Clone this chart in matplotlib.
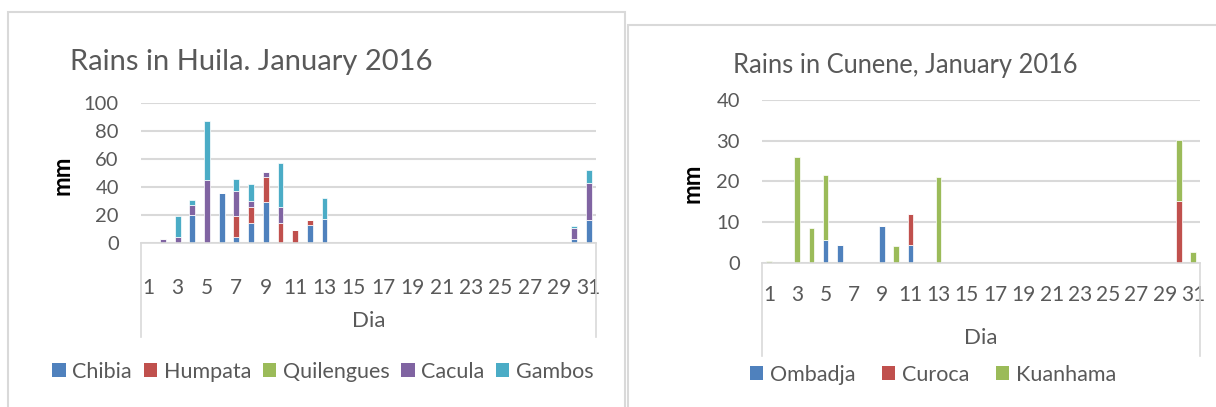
import matplotlib
matplotlib.use('Agg')
import matplotlib.pyplot as plt
from matplotlib.patches import Patch, Rectangle
from matplotlib.lines import Line2D
import numpy as np

plt.rcParams['font.family'] = ['Lato', 'DejaVu Sans']

# ---------------- data ----------------
days = list(range(1, 32))
tick_days = list(range(1, 32, 2))

huila_names = ['Chibia', 'Humpata', 'Quilengues', 'Cacula', 'Gambos']
chibia =     [0, 0, 0, 20, 0, 36, 4, 14.5, 29.5, 0, 0, 13, 17.4] + [0]*16 + [3, 16.7]
humpata =    [0, 0, 0, 0, 0, 0, 15, 11.5, 17.4, 14.5, 9.3, 3.6, 0] + [0]*16 + [0, 0]
quilengues = [0]*31
cacula =     [0, 3, 4, 7.4, 45, 0, 18, 4.3, 3.6, 11.5, 0, 0, 0] + [0]*16 + [8, 26.2]
gambos =     [0, 0, 15.5, 3.3, 42, 0, 9, 12, 0, 31, 0, 0, 14.7] + [0]*16 + [1.4, 9.2]

cunene_names = ['Ombadja', 'Curoca', 'Kuanhama']
ombadja =  [0, 0, 0, 0, 5.5, 4.4, 0, 0, 9.0, 0, 4.35, 0, 0] + [0]*16 + [0, 0]
curoca =   [0, 0, 0, 0, 0, 0, 0, 0, 0, 0, 7.55, 0, 0] + [0]*16 + [15.3, 0]
kuanhama = [0.3, 0, 26, 8.6, 16.1, 0, 0, 0, 0, 4.0, 0, 0, 21.0] + [0]*16 + [14.8, 2.7]

colors5 = ['#4F81BD', '#C0504D', '#9BBB59', '#8064A2', '#4BACC6']
colors3 = ['#4F81BD', '#C0504D', '#9BBB59']

TXT = '#595959'
GRID = '#D9D9D9'

W, H = 1216, 407
fig = plt.figure(figsize=(W/100, H/100), dpi=100)

def fx(x):
    return x / W

def fy(y):
    return 1 - y / H

# panel borders
fig.patches.append(Rectangle((fx(8), fy(430)), fx(625) - fx(8), fy(12) - fy(430),
                             transform=fig.transFigure, fill=False, edgecolor=GRID, lw=1.5))
fig.patches.append(Rectangle((fx(628), fy(430)), fx(1240) - fx(628), fy(25) - fy(430),
                             transform=fig.transFigure, fill=False, edgecolor=GRID, lw=1.5))


def setup(ax, ymax, ystep, box_bottom, tick_pad):
    ax.set_xlim(0.5, 31.5)
    ax.set_ylim(0, ymax)
    ax.set_yticks(np.arange(0, ymax + 0.1, ystep))
    ax.set_xticks(tick_days)
    ax.set_xticklabels([str(d) for d in tick_days])
    ax.tick_params(axis='x', length=0, pad=tick_pad, labelsize=15, labelcolor=TXT)
    ax.tick_params(axis='y', length=0, pad=16, labelsize=14.5, labelcolor=TXT)
    for s in ['top', 'right', 'left']:
        ax.spines[s].set_visible(False)
    ax.spines['bottom'].set_color(GRID)
    ax.spines['bottom'].set_linewidth(1.2)
    ax.yaxis.grid(True, color=GRID, lw=1.5)
    ax.set_axisbelow(True)
    for xa in (0, 1):
        ax.add_line(Line2D([xa, xa], [0, box_bottom], transform=ax.transAxes,
                           color=GRID, lw=1.2, clip_on=False))


# ---------------- Huila ----------------
ax1 = fig.add_axes([fx(141), fy(243), fx(596) - fx(141), fy(103) - fy(243)])
bottom = np.zeros(31)
handles1 = []
for name, vals, c in zip(huila_names, [chibia, humpata, quilengues, cacula, gambos], colors5):
    v = np.array(vals, dtype=float)
    ax1.bar(days, v, width=0.4, bottom=bottom, color=c, edgecolor='white', linewidth=0.5)
    bottom += v
    handles1.append(Patch(facecolor=c, edgecolor='none', label=name))
setup(ax1, 100, 20, -0.67, 25)

fig.text(fx(70), fy(62), 'Rains in Huila. January 2016', fontsize=21, color=TXT, va='center', ha='left')
fig.text(fx(62), fy(175), 'mm', fontsize=17, fontweight='bold', rotation=90, va='center', ha='center', color='black')
fig.text(fx(368.5), fy(321), 'Dia', fontsize=16, color=TXT, va='center', ha='center')

fig.legend(handles=handles1, loc='center', bbox_to_anchor=(fx(323), fy(372)), ncol=5,
           frameon=False, fontsize=15.5, handlelength=0.62, handleheight=0.62,
           handletextpad=0.3, columnspacing=0.55, labelcolor=TXT, borderpad=0, borderaxespad=0)

# ---------------- Cunene ----------------
ax2 = fig.add_axes([fx(762), fy(262.7), fx(1200) - fx(762), fy(100.3) - fy(262.7)])
bottom = np.zeros(31)
handles2 = []
for name, vals, c in zip(cunene_names, [ombadja, curoca, kuanhama], colors3):
    v = np.array(vals, dtype=float)
    ax2.bar(days, v, width=0.4, bottom=bottom, color=c, edgecolor='white', linewidth=0.5)
    bottom += v
    handles2.append(Patch(facecolor=c, edgecolor='none', label=name))
setup(ax2, 40, 10, -0.575, 16)

fig.text(fx(733), fy(65), 'Rains in Cunene, January 2016', fontsize=18.4, color=TXT, va='center', ha='left')
fig.text(fx(692), fy(183), 'mm', fontsize=17, fontweight='bold', rotation=90, va='center', ha='center', color='black')
fig.text(fx(981), fy(338), 'Dia', fontsize=16, color=TXT, va='center', ha='center')

fig.legend(handles=handles2, loc='center', bbox_to_anchor=(fx(933), fy(375)), ncol=3,
           frameon=False, fontsize=15.5, handlelength=0.62, handleheight=0.62,
           handletextpad=0.3, columnspacing=1.25, labelcolor=TXT, borderpad=0, borderaxespad=0)

fig.savefig('out.png', dpi=100)
